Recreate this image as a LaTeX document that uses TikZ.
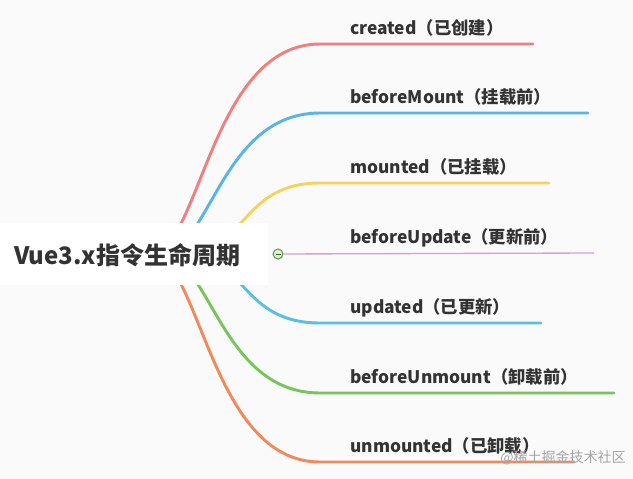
\documentclass[tikz,border=0pt]{standalone}
\usepackage{fontspec}
\setmainfont{Noto Sans CJK SC}
\usetikzlibrary{calc}
\begin{document}
\begin{tikzpicture}[x=0.75pt,y=-0.75pt,
  br/.style={line width=2.2pt,line cap=round},
  lab/.style={anchor=base west,inner sep=0,font=\bfseries\fontsize{13}{15}\selectfont,text=black!80},
]
\useasboundingbox[fill=black!2] (0,0) rectangle (633,479);
\definecolor{cr}{HTML}{F07F7F}\definecolor{cb}{HTML}{5AB4E5}
\definecolor{cy}{HTML}{F7D25C}\definecolor{cp}{HTML}{D89FD8}
\definecolor{cl}{HTML}{5BC0DE}\definecolor{cg}{HTML}{7AC45E}
\definecolor{co}{HTML}{F08A5C}
\coordinate (s1) at (150,254); \coordinate (s2) at (160,254); \coordinate (s3) at (185,254);
\coordinate (s5) at (185,254); \coordinate (s6) at (160,254); \coordinate (s7) at (150,254);
\foreach \n/\y/\e/\c/\a/\b in {1/44/533/cr/50/110,2/113/588/cb/50/100,3/183/549/cy/60/80,5/323/541/cl/60/80,6/393/614/cg/50/100,7/462/574/co/50/110}{
  \coordinate (t\n) at (320,\y); \coordinate (u\n) at (\e,\y);
  \draw[br,\c] (s\n) .. controls ($(s\n)+(\a,0)$) and ($(t\n)+(-\b,0)$) .. (t\n) -- (u\n);
}
\fill[white] (0,223) rectangle (268,285);
\node[lab,font=\bfseries\fontsize{18}{20}\selectfont] (root) at (14,264) {Vue3.x指令生命周期};
\node[circle,draw=cg!80!black,fill=cg!25,minimum size=7.5pt,inner sep=0,line width=0.8pt] (c) at (278,254) {};
\draw[cg!50!black,line width=0.7pt] ($(c)+(-2.5,0)$) -- ($(c)+(2.5,0)$);
\coordinate (u4) at (594,253);
\draw[cp,line width=1pt] (c) -- (u4);
\node[lab] (l1) at (350,34) {created（已创建）};
\node[lab] (l2) at (350,103) {beforeMount（挂载前）};
\node[lab] (l3) at (350,173) {mounted（已挂载）};
\node[lab] (l4) at (350,243) {beforeUpdate（更新前）};
\node[lab] (l5) at (350,313) {updated（已更新）};
\node[lab] (l6) at (350,383) {beforeUnmount（卸载前）};
\node[lab] (l7) at (350,452) {unmounted（已卸载）};
\node[anchor=base west,inner sep=0,text=black!35,font=\fontsize{10.5}{12}\selectfont] (wm) at (500,462) {@稀土掘金技术社区};
\end{tikzpicture}
\end{document}
